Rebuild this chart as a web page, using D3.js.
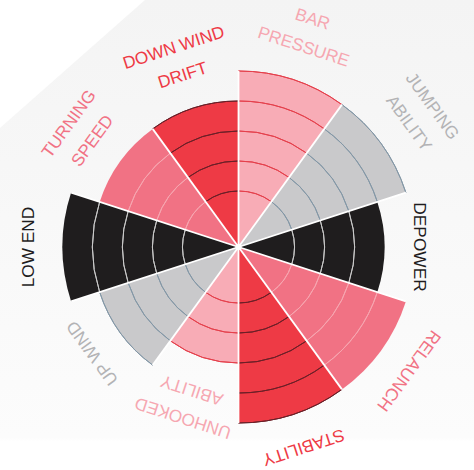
<!DOCTYPE html>
<html>
<head>
<meta charset="utf-8">
<script src="https://cdn.jsdelivr.net/npm/d3@7"></script>
<style>
  html, body { margin: 0; padding: 0; background: #fff; }
  svg { display: block; }
</style>
</head>
<body>
<script>
// 数据
const categories = ["BAR PRESSURE", "JUMPING ABILITY", "DEPOWER", "RELAUNCH", "STABILITY",
    "UNHOOKED ABILITY", "UP WIND", "LOW END", "TURNING SPEED", "DOWN WIND DRIFT"];
const labelLines = [["BAR", "PRESSURE"], ["JUMPING", "ABILITY"], ["DEPOWER"], ["RELAUNCH"], ["STABILITY"],
    ["UNHOOKED", "ABILITY"], ["UP WIND"], ["LOW END"], ["TURNING", "SPEED"], ["DOWN WIND", "DRIFT"]];
const values = [5, 5, 4, 5, 5, 3, 4, 5, 4, 4];
const ringTicks = [1, 2, 3, 4, 5];

// 颜色：每五个一组循环
const fills = ["#f8acb6", "#c9c9cb", "#1f1d1e", "#f17284", "#ee3a45"];
const gridColors = ["#e5404c", "#8397a6", "#c9c9c9", "#f7a6b0", "#6b1f27"];
const edgeColors = ["#e5404c", "#8397a6", null, null, "#6b1f27"];
const textColors = ["#f6a7b1", "#b3b3b5", "#1f1d1e", "#f17284", "#ee3a45"];

const width = 474, height = 470;
const cx = 238.5, cy = 247;

const svg = d3.select("body").append("svg")
    .attr("width", width)
    .attr("height", height);

// 背景
const defs = svg.append("defs");
const grad = defs.append("linearGradient").attr("id", "bg").attr("x1", 0).attr("y1", 0).attr("x2", 0).attr("y2", 1);
grad.append("stop").attr("offset", "0%").attr("stop-color", "#f4f4f4");
grad.append("stop").attr("offset", "93%").attr("stop-color", "#fcfcfc");
grad.append("stop").attr("offset", "94%").attr("stop-color", "#ffffff");
svg.append("rect").attr("width", width).attr("height", height).attr("fill", "url(#bg)");
svg.append("path").attr("d", "M0,0L145,0L0,128Z").attr("fill", "#ffffff");

const angle = d3.scaleBand().domain(categories).range([0, 2 * Math.PI]).padding(0);
const r = d3.scaleLinear().domain([0, 5]).range([26, 176]);

const data = categories.map((name, i) => ({
    name, value: values[i], lines: labelLines[i], k: i % 5,
    prev: values[(i + values.length - 1) % values.length],
    start: angle(name), end: angle(name) + angle.bandwidth()
}));

const chart = svg.append("g").attr("class", "h-chart").attr("transform", `translate(${cx},${cy})`);

const arc = d3.arc().innerRadius(0).outerRadius(d => r(d.value)).startAngle(d => d.start).endAngle(d => d.end);

// 扇形
chart.append("g").selectAll("path").data(data).join("path")
    .attr("d", arc)
    .attr("fill", d => fills[d.k]);

// 扇形内的网格圆弧
const ringArc = d3.arc();
data.forEach(d => {
    const rings = ringTicks.filter(t => t < d.value);
    chart.append("g").selectAll("path").data(rings).join("path")
        .attr("d", t => ringArc({ innerRadius: r(t), outerRadius: r(t), startAngle: d.start, endAngle: d.end }))
        .attr("fill", "none")
        .attr("stroke", gridColors[d.k])
        .attr("stroke-width", 1);
    if (edgeColors[d.k]) {
        chart.append("path")
            .attr("d", ringArc({ innerRadius: r(d.value), outerRadius: r(d.value), startAngle: d.start, endAngle: d.end }))
            .attr("fill", "none")
            .attr("stroke", edgeColors[d.k])
            .attr("stroke-width", 1);
    }
});

// 白色分隔线（长度取相邻两个扇形中较长的）
chart.append("g").selectAll("line").data(data).join("line")
    .attr("x1", 0).attr("y1", 0)
    .attr("x2", d => Math.sin(d.start) * r(Math.max(d.value, d.prev)))
    .attr("y2", d => -Math.cos(d.start) * r(Math.max(d.value, d.prev)))
    .attr("stroke", "#ffffff")
    .attr("stroke-width", 1.8);

chart.append("circle").attr("r", 3).attr("fill", "#ffffff");

// 标签
const labels = chart.append("g")
    .attr("font-family", "'Liberation Sans', Arial, sans-serif")
    .attr("font-size", 17.3)
    .attr("text-anchor", "middle")
    .selectAll("g").data(data).join("g")
    .attr("transform", d => `rotate(${(d.start + d.end) / 2 * 180 / Math.PI})`);

labels.each(function (d) {
    const g = d3.select(this);
    const base = -(r(d.value) + 29);
    const n = d.lines.length;
    d.lines.forEach((line, j) => {
        g.append("text")
            .attr("x", 0)
            .attr("y", base - (n - 1 - j) * 29)
            .attr("fill", textColors[d.k])
            .text(line);
    });
});
</script>
</body>
</html>
